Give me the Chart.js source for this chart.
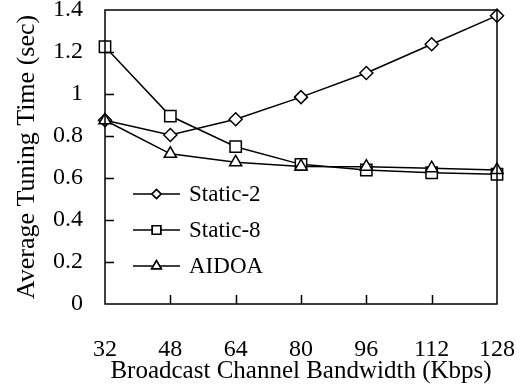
<!DOCTYPE html>
<html>
<head>
<meta charset="utf-8">
<script src="https://cdn.jsdelivr.net/npm/chart.js@4"></script>
<style>
  html, body { margin: 0; padding: 0; background: #fff; }
  #wrap { width: 524px; height: 390px; }
</style>
</head>
<body>
<div id="wrap"><canvas id="myChart" width="524" height="390"></canvas></div>
<script>
var categories = ['32', '48', '64', '80', '96', '112', '128'];
var static2 = [0.875, 0.805, 0.88, 0.985, 1.10, 1.237, 1.373];
var static8 = [1.225, 0.895, 0.749, 0.665, 0.638, 0.625, 0.618];
var aidoa = [0.875, 0.715, 0.675, 0.655, 0.654, 0.647, 0.638];
var yTicks = [0, 0.2, 0.4, 0.6, 0.8, 1, 1.2, 1.4];
var yTickLabels = ['0', '0.2', '0.4', '0.6', '0.8', '1', '1.2', '1.4'];

var seriesNames = ['Static-2', 'Static-8', 'AIDOA'];
var seriesStyles = ['rectRot', 'rect', 'triangle'];
var seriesRadius = [6.5, 8, 7];
var legendRadius = [4.5, 6, 5.5];

var FONT = 'Liberation Serif, Times New Roman, serif';

// frame, inward ticks and the legend box inside the plot
var framePlugin = {
  id: 'frame',
  afterDraw: function (chart) {
    var ctx = chart.ctx;
    var a = chart.chartArea;
    var x = chart.scales.x, y = chart.scales.y;
    ctx.save();
    ctx.strokeStyle = '#000';
    ctx.lineWidth = 1.5;
    ctx.strokeRect(a.left, a.top, a.right - a.left, a.bottom - a.top);
    ctx.beginPath();
    for (var i = 1; i < yTicks.length - 1; i++) {
      var py = Math.round(y.getPixelForValue(yTicks[i])) + 0.5;
      ctx.moveTo(a.left, py);
      ctx.lineTo(a.left + 9, py);
    }
    for (var j = 1; j < categories.length - 1; j++) {
      var px = Math.round(x.getPixelForValue(j)) + 0.5;
      ctx.moveTo(px, a.bottom);
      ctx.lineTo(px, a.bottom - 9);
    }
    ctx.stroke();

    // legend
    var lx = 133, rowY = [194, 230, 266];
    ctx.font = '23px ' + FONT;
    ctx.textBaseline = 'middle';
    ctx.fillStyle = '#000';
    for (var k = 0; k < seriesNames.length; k++) {
      ctx.lineWidth = 1.5;
      ctx.beginPath();
      ctx.moveTo(lx, rowY[k]);
      ctx.lineTo(lx + 47, rowY[k]);
      ctx.stroke();
      ctx.fillStyle = '#fff';
      Chart.helpers.drawPoint(ctx, {
        pointStyle: seriesStyles[k], radius: legendRadius[k], rotation: 0, borderWidth: 1.5
      }, lx + 23.5, rowY[k]);
      ctx.fill();
      ctx.stroke();
      ctx.fillStyle = '#000';
      ctx.fillText(seriesNames[k], lx + 56, rowY[k] + 1);
    }
    ctx.restore();
  }
};

function makeSet(idx, values, order) {
  return {
    label: seriesNames[idx],
    data: values,
    borderColor: '#000',
    borderWidth: 1.5,
    backgroundColor: '#fff',
    pointStyle: seriesStyles[idx],
    pointRadius: seriesRadius[idx],
    pointHoverRadius: seriesRadius[idx],
    pointBackgroundColor: '#fff',
    pointBorderColor: '#000',
    pointBorderWidth: 1.5,
    tension: 0,
    fill: false,
    clip: false,
    order: order
  };
}

var ctx = document.getElementById('myChart').getContext('2d');
var chart = new Chart(ctx, {
  type: 'line',
  data: {
    labels: categories,
    datasets: [
      makeSet(0, static2, 1),
      makeSet(1, static8, 2),
      makeSet(2, aidoa, 0)
    ]
  },
  plugins: [framePlugin],
  options: {
    responsive: false,
    animation: false,
    layout: { padding: { top: 10, right: 27, left: 0, bottom: 0 } },
    plugins: {
      legend: { display: false },
      tooltip: { enabled: false }
    },
    scales: {
      x: {
        type: 'category',
        offset: false,
        grid: { display: false, drawTicks: false },
        border: { display: false },
        ticks: {
          color: '#000',
          padding: 31,
          maxRotation: 0,
          autoSkip: false,
          font: { family: FONT, size: 24 }
        },
        title: {
          display: true,
          text: 'Broadcast Channel Bandwidth (Kbps)',
          color: '#000',
          padding: { top: 0, bottom: 4 },
          font: { family: FONT, size: 25 }
        },
        afterFit: function (scale) {
          scale.height = 86;
          scale.paddingLeft = 0;
          scale.paddingRight = 0;
        }
      },
      y: {
        min: 0,
        max: 1.4,
        grid: { display: false, drawTicks: false },
        border: { display: false },
        afterBuildTicks: function (scale) {
          scale.ticks = yTicks.map(function (v) { return { value: v }; });
        },
        ticks: {
          color: '#000',
          padding: 22,
          font: { family: FONT, size: 24 },
          callback: function (value, index) { return yTickLabels[index]; }
        },
        title: {
          display: true,
          text: 'Average Tuning Time (sec)',
          color: '#000',
          padding: { top: 12, bottom: 0 },
          font: { family: FONT, size: 26 }
        },
        afterFit: function (scale) {
          scale.width = 105;
          scale.paddingTop = 0;
          scale.paddingBottom = 0;
        }
      }
    }
  }
});
</script>
</body>
</html>
